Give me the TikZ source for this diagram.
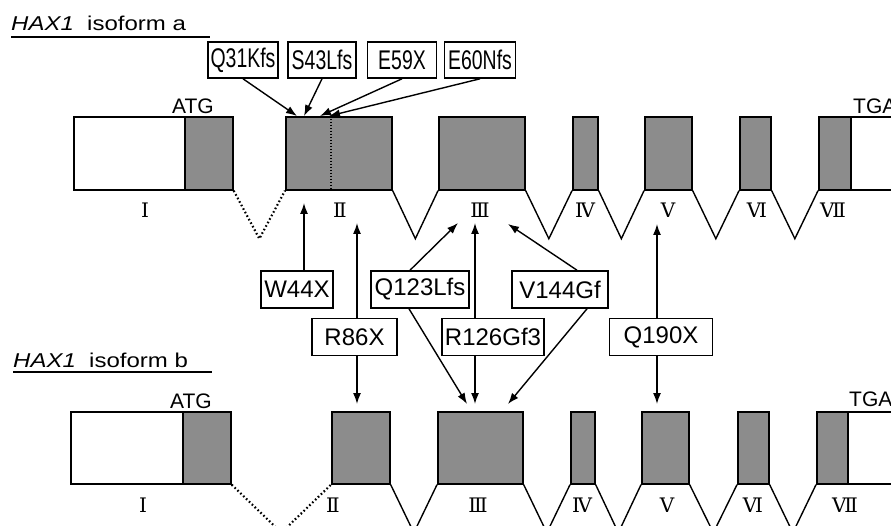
\documentclass[tikz,border=0pt]{standalone}
\usepackage{fontspec}
\setmainfont{Liberation Sans}
\newfontfamily\narrowfont[FakeStretch=0.72]{Liberation Sans}
\newfontfamily\widefont[FakeStretch=1.2]{Liberation Sans}
\newfontfamily\romfont{DejaVu Serif}
\usetikzlibrary{calc,arrows.meta}

\begin{document}
\begin{tikzpicture}[x=1pt,y=-1pt,
  cds/.style={rectangle,draw,line width=1.7pt,fill=black!45,inner sep=0pt,anchor=north west},
  utr/.style={cds,fill=white},
  intron/.style={line width=1.4pt},
  skip/.style={line width=2.2pt,dash pattern=on 1.6pt off 2.4pt},
  mut/.style={rectangle,draw,line width=1.6pt,fill=white,inner sep=0pt,minimum height=37pt,font=\fontsize{24}{26}\selectfont},
  topmut/.style={mut,minimum height=36pt,font=\narrowfont\fontsize{27}{29}\selectfont},
  hit/.style={-{Latex[length=11pt,width=8pt]},line width=1.4pt},
  num/.style={font=\romfont\fontsize{20}{22}\selectfont,inner sep=0pt},
  codon/.style={font=\fontsize{21}{23}\selectfont,inner sep=0pt},
  title/.style={anchor=base west,inner sep=0pt,font=\widefont\fontsize{20}{22}\selectfont}]
\useasboundingbox (0,0) rectangle (891,526);
\clip (0,0) rectangle (891,526);

% isoform a
\node[title] (ta) at (11,31) {\textit{HAX1}\ \ isoform a};
\draw[line width=1.6pt] ($(ta.base west)+(0,6)$) -- ++(199,0);
\node[utr,minimum width=111pt,minimum height=73pt] (a1u) at (73,116) {};
\node[cds,minimum width=48pt,minimum height=73pt] (a1) at (184,116) {};
\foreach \n/\x/\w in {2/285/106,3/438/86,4/572/25,5/644/47,6/739/31,7/818/32}
  \node[cds,minimum width=\w pt,minimum height=73pt] (a\n) at (\x,116) {};
\node[utr,minimum width=60pt,minimum height=73pt] (a7u) at (850,116) {};
\draw[line width=1.2pt,dash pattern=on 1.5pt off 1.5pt] ($(a2.north west)+(46,0)$) -- ($(a2.south west)+(46,0)$);
\draw[skip] (a1.south east) -- ($(a1.south east)!.5!(a2.south west)+(0,48)$) -- (a2.south west);
\foreach \l/\r in {a2/a3,a3/a4,a4/a5,a5/a6,a6/a7}
  \draw[intron] (\l.south east) -- ($(\l.south east)!.5!(\r.south west)+(0,48)$) -- (\r.south west);
\node[codon,anchor=south east] (atga) at (214,114) {ATG};
\node[codon,anchor=south west] (tgaa) at (853,114) {TGA};
\foreach \r/\x [count=\i] in {Ⅰ/145,Ⅱ/340,Ⅲ/480,Ⅳ/585,Ⅴ/668,Ⅵ/757,Ⅶ/833}
  \node[num] (na\i) at (\x,210) {\r};

% isoform b
\node[title] (tb) at (13,367) {\textit{HAX1}\ \ isoform b};
\draw[line width=1.6pt] ($(tb.base west)+(0,5)$) -- ++(199,0);
\node[utr,minimum width=112pt,minimum height=72pt] (b1u) at (70,411) {};
\node[cds,minimum width=48pt,minimum height=72pt] (b1) at (182,411) {};
\foreach \n/\x/\w in {2/331/58,3/437/85,4/570/24,5/641/47,6/737/31,7/816/31}
  \node[cds,minimum width=\w pt,minimum height=72pt] (b\n) at (\x,411) {};
\node[utr,minimum width=60pt,minimum height=72pt] (b7u) at (847,411) {};
\draw[skip] (b1.south east) -- ($(b1.south east)!.5!(b2.south west)+(0,48)$) -- (b2.south west);
\foreach \l/\r in {b2/b3,b3/b4,b4/b5,b5/b6,b6/b7}
  \draw[intron] (\l.south east) -- ($(\l.south east)!.5!(\r.south west)+(0,48)$) -- (\r.south west);
\node[codon,anchor=south east] (atgb) at (212,409) {ATG};
\node[codon,anchor=south west] (tgab) at (849,407) {TGA};
\foreach \r/\x [count=\i] in {Ⅰ/143,Ⅱ/333,Ⅲ/478,Ⅳ/582,Ⅴ/667,Ⅵ/753,Ⅶ/845}
  \node[num] (nb\i) at (\x,505) {\r};

% mutations in exon II of isoform a
\node[topmut,minimum width=70pt] (q31) at (243,60) {Q31Kfs};
\node[topmut,minimum width=68pt] (s43) at (322,60) {S43Lfs};
\node[topmut,minimum width=69pt] (e59) at (402,60) {E59X};
\node[topmut,minimum width=71pt] (e60) at (480,60) {E60Nfs};
\coordinate (q31t) at (297,116);
\coordinate (s43t) at (304,116);
\coordinate (e59t) at (320,116);
\coordinate (e60t) at (329,116);
\foreach \m in {q31,s43,e59,e60}
  \draw[hit] (\m.south) -- (\m t);

% mutations shared by both isoforms
\node[mut,minimum width=72pt] (w44) at (297,289.5) {W44X};
\node[mut,minimum width=98pt] (q123) at (420,289.5) {Q123Lfs};
\node[mut,minimum width=96pt] (v144) at (560,289.5) {V144Gf};
\node[mut,minimum width=85pt] (r86) at (354.5,337) {R86X};
\node[mut,minimum width=102pt] (r126) at (493,337) {R126Gf3};
\node[mut,minimum width=103pt] (q190) at (661,337) {Q190X};
\coordinate (w44a) at (304,203);
\coordinate (r86a) at (357,223);
\coordinate (r86b) at (357,404);
\coordinate (q123a) at (458,223);
\coordinate (q123b) at (467,404);
\coordinate (r126a) at (475,223);
\coordinate (r126b) at (475,404);
\coordinate (v144a) at (508,224);
\coordinate (v144b) at (508,404);
\coordinate (q190a) at (657,224);
\coordinate (q190b) at (657,404);
\draw[hit] (w44.north -| w44a) -- (w44a);
\draw[hit] (r86.north -| r86a) -- (r86a);
\draw[hit] (r86.south -| r86b) -- (r86b);
\draw[hit] ($(q123.north)+(-10,0)$) -- (q123a);
\draw[hit] ($(q123.south)+(-11,0)$) -- (q123b);
\draw[hit] (r126.north -| r126a) -- (r126a);
\draw[hit] (r126.south -| r126b) -- (r126b);
\draw[hit] ($(v144.north)+(17,0)$) -- (v144a);
\draw[hit] ($(v144.south)+(27,0)$) -- (v144b);
\draw[hit] (q190.north -| q190a) -- (q190a);
\draw[hit] (q190.south -| q190b) -- (q190b);
\end{tikzpicture}
\end{document}
